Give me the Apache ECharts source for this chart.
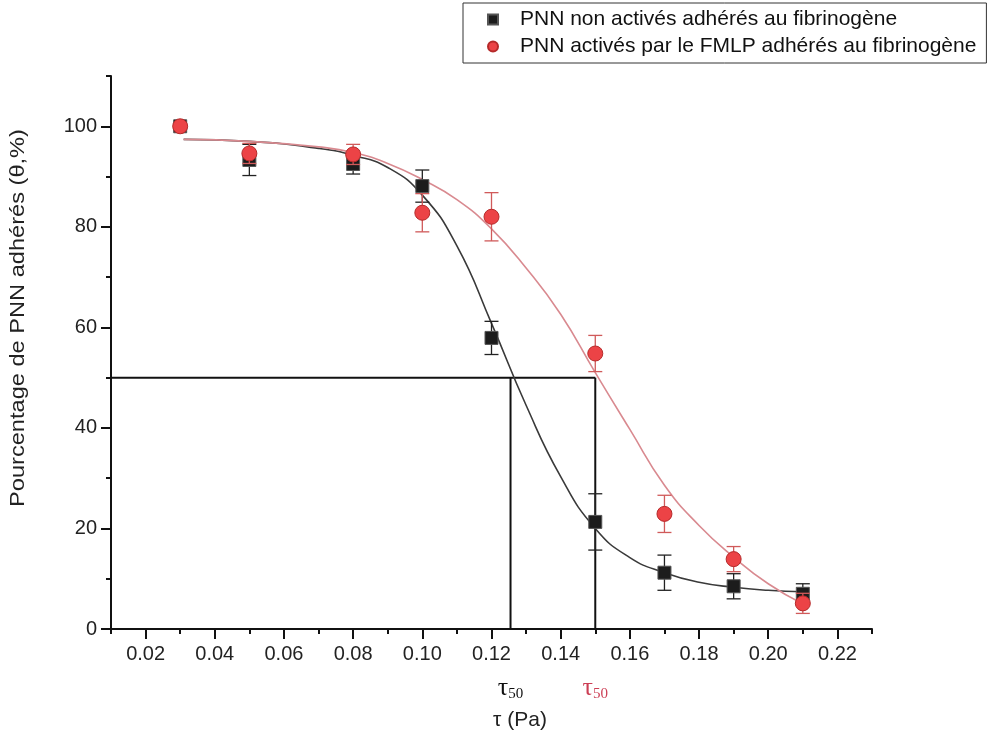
<!DOCTYPE html>
<html><head><meta charset="utf-8">
<script src="https://cdn.jsdelivr.net/npm/echarts@6/dist/echarts.min.js"></script>
<style>html,body{margin:0;padding:0;background:#fff}#chart{width:990px;height:740px}</style>
</head><body><div id="chart"></div>
<script>
// ---- data ----
const xMajorTicks = [0.02, 0.04, 0.06, 0.08, 0.10, 0.12, 0.14, 0.16, 0.18, 0.20, 0.22];
const xMinorTicks = [0.01, 0.03, 0.05, 0.07, 0.09, 0.11, 0.13, 0.15, 0.17, 0.19, 0.21, 0.23];
const yMajorTicks = [0, 20, 40, 60, 80, 100];
const yMinorTicks = [10, 30, 50, 70, 90, 110];

const tau = [0.03, 0.05, 0.08, 0.10, 0.12, 0.15, 0.17, 0.19, 0.21];
const nonActive    = [100, 93.3, 92.5, 88.1, 57.9, 21.3, 11.2, 8.5, 7.0];
const nonActiveErr = [0, 3.1, 2.0, 3.2, 3.3, 5.6, 3.5, 2.5, 2.0];
const activated    = [100, 94.6, 94.4, 82.8, 82.0, 54.8, 22.9, 13.9, 5.1];
const activatedErr = [0, 2.0, 2.0, 3.8, 4.8, 3.6, 3.7, 2.5, 2.0];

// fitted curves
const fitNonX = [0.031, 0.05, 0.07, 0.08, 0.09, 0.10, 0.11, 0.12, 0.13, 0.14, 0.15, 0.16, 0.17, 0.18, 0.19, 0.20, 0.21];
const fitNonY = [97.4, 97.0, 95.6, 94.2, 91.8, 86.3, 76.2, 60.8, 44.5, 30.3, 20.0, 14.2, 11.2, 9.3, 8.3, 7.7, 7.4];
const fitActX = [0.031, 0.05, 0.07, 0.08, 0.09, 0.10, 0.11, 0.12, 0.13, 0.14, 0.15, 0.16, 0.17, 0.18, 0.19, 0.20, 0.21];
const fitActY = [97.4, 97.0, 95.9, 94.8, 92.6, 89.4, 85.4, 79.6, 71.8, 62.6, 51.0, 39.7, 28.6, 20.6, 14.3, 9.0, 5.0];

const tau50 = [0.1255, 0.15];
const halfLevel = 50;
const xRange = [0.01, 0.23];
const yRange = [0, 110];

const nameNon = 'PNN non activés adhérés au fibrinogène';
const nameAct = 'PNN activés par le FMLP adhérés au fibrinogène';
const yTitle = 'Pourcentage de PNN adhérés (θ,%)';
const xTitle = 'τ (Pa)';

// ---- build ----
const zip = (xs, ys) => xs.map((x, i) => [x, ys[i]]);
const errData = (ys, es) => tau.map((x, i) => [x, ys[i] - es[i], ys[i] + es[i], es[i]]).filter(d => d[3] > 0);
const FONT = 'Liberation Sans';

function errorItem(color) {
  return function (params, api) {
    const x = api.value(0), lo = api.value(1), hi = api.value(2);
    const a = api.coord([x, hi]), b = api.coord([x, lo]);
    const w = 7;
    const st = { stroke: color, lineWidth: 1.3 };
    return { type: 'group', children: [
      { type: 'line', shape: { x1: a[0], y1: a[1], x2: b[0], y2: b[1] }, style: st },
      { type: 'line', shape: { x1: a[0] - w, y1: a[1], x2: a[0] + w, y2: a[1] }, style: st },
      { type: 'line', shape: { x1: b[0] - w, y1: b[1], x2: b[0] + w, y2: b[1] }, style: st }
    ] };
  };
}

const fmt2 = v => v.toFixed(2);
const chart = echarts.init(document.getElementById('chart'), null, { renderer: 'canvas' });
const baseX = { type: 'value', min: xRange[0], max: xRange[1], splitLine: { show: false } };

chart.setOption({
  animation: false,
  backgroundColor: '#fff',
  grid: { left: 111, right: 118, top: 76, bottom: 111, containLabel: false },
  legend: {
    orient: 'vertical', left: 463, top: 3,
    padding: [6, 10, 6, 24], itemGap: 6, itemWidth: 10, itemHeight: 10,
    borderColor: '#333', borderWidth: 1,
    textStyle: { fontFamily: FONT, fontSize: 21, color: '#111', padding: [0, 0, 0, 17] },
    data: [{ name: nameNon, icon: 'rect' }, { name: nameAct, icon: 'circle' }]
  },
  xAxis: [
    Object.assign({}, baseX, {
      position: 'bottom',
      axisLine: { show: true, onZero: false, lineStyle: { color: '#111', width: 2 } },
      axisTick: { show: true, length: 10, customValues: xMajorTicks, lineStyle: { color: '#111', width: 2 } },
      axisLabel: { customValues: xMajorTicks, formatter: fmt2, margin: 15, fontFamily: FONT, fontSize: 20, color: '#222' }
    }),
    Object.assign({}, baseX, {
      position: 'bottom',
      axisLine: { show: false, onZero: false },
      axisTick: { show: true, length: 5, customValues: xMinorTicks, lineStyle: { color: '#111', width: 2 } },
      axisLabel: { show: false }
    }),
    Object.assign({}, baseX, {
      position: 'bottom',
      axisLine: { show: false, onZero: false },
      axisTick: { show: false },
      axisLabel: {
        customValues: tau50, margin: 46,
        formatter: (v) => Math.abs(v - tau50[0]) < 1e-6 ? '{b|τ}{bs|50}' : '{r|τ}{rs|50}',
        rich: {
          b: { fontFamily: 'Liberation Serif', fontSize: 26, color: '#111' },
          bs: { fontFamily: 'Liberation Serif', fontSize: 15, color: '#111', padding: [12, 0, 0, 0] },
          r: { fontFamily: 'Liberation Serif', fontSize: 26, color: '#cc3f55' },
          rs: { fontFamily: 'Liberation Serif', fontSize: 15, color: '#cc3f55', padding: [12, 0, 0, 0] }
        }
      }
    })
  ],
  yAxis: [{
    type: 'value', min: yRange[0], max: yRange[1], splitLine: { show: false },
    axisLine: { show: true, onZero: false, lineStyle: { color: '#111', width: 2 } },
    axisTick: { show: true, length: 10, customValues: yMajorTicks, lineStyle: { color: '#111', width: 2 } },
    axisLabel: { customValues: yMajorTicks, margin: 14, fontFamily: FONT, fontSize: 20, color: '#222' }
  }, {
    type: 'value', min: yRange[0], max: yRange[1], position: 'left', splitLine: { show: false },
    axisLine: { show: false, onZero: false },
    axisTick: { show: true, length: 5, customValues: yMinorTicks, lineStyle: { color: '#111', width: 2 } },
    axisLabel: { show: false }
  }],
  graphic: [{
    type: 'text', x: 18, y: 318, rotation: Math.PI / 2, scaleX: 1.18,
    style: { text: yTitle, fontFamily: FONT, fontSize: 20, fill: '#222', align: 'center', verticalAlign: 'middle' }
  }, {
    type: 'text', x: 520, y: 720,
    style: { text: xTitle, fontFamily: FONT, fontSize: 21, fill: '#222', align: 'center', verticalAlign: 'middle' }
  }],
  series: [
    { name: 'ref-h', type: 'line', data: [[xRange[0], halfLevel], [tau50[1], halfLevel]], symbol: 'none', lineStyle: { color: '#111', width: 2 }, z: 1, silent: true },
    { name: 'ref-v1', type: 'line', data: [[tau50[0], 0], [tau50[0], halfLevel]], symbol: 'none', lineStyle: { color: '#111', width: 2 }, z: 1, silent: true },
    { name: 'ref-v2', type: 'line', data: [[tau50[1], 0], [tau50[1], halfLevel]], symbol: 'none', lineStyle: { color: '#111', width: 2 }, z: 1, silent: true },
    { name: 'fit-non', type: 'line', data: zip(fitNonX, fitNonY), symbol: 'none', smooth: 0.5, lineStyle: { color: '#3a3a3a', width: 1.6 }, z: 2 },
    { name: 'fit-act', type: 'line', data: zip(fitActX, fitActY), symbol: 'none', smooth: 0.5, lineStyle: { color: '#d98a90', width: 1.6 }, z: 2 },
    { name: 'err-non', type: 'custom', renderItem: errorItem('#222'), data: errData(nonActive, nonActiveErr), encode: { x: 0, y: [1, 2] }, z: 3 },
    { name: nameNon, type: 'scatter', data: zip(tau, nonActive), symbol: 'rect', symbolSize: 13,
      itemStyle: { color: '#1c1c1c', borderColor: '#555', borderWidth: 1, opacity: 1 }, z: 4 },
    { name: 'err-act', type: 'custom', renderItem: errorItem('#d05a5a'), data: errData(activated, activatedErr), encode: { x: 0, y: [1, 2] }, z: 5 },
    { name: nameAct, type: 'scatter', data: zip(tau, activated), symbol: 'circle', symbolSize: 15,
      itemStyle: { color: '#ec4346', borderColor: '#b52a2a', borderWidth: 1, opacity: 1 }, z: 6 }
  ]
});
</script></body></html>
